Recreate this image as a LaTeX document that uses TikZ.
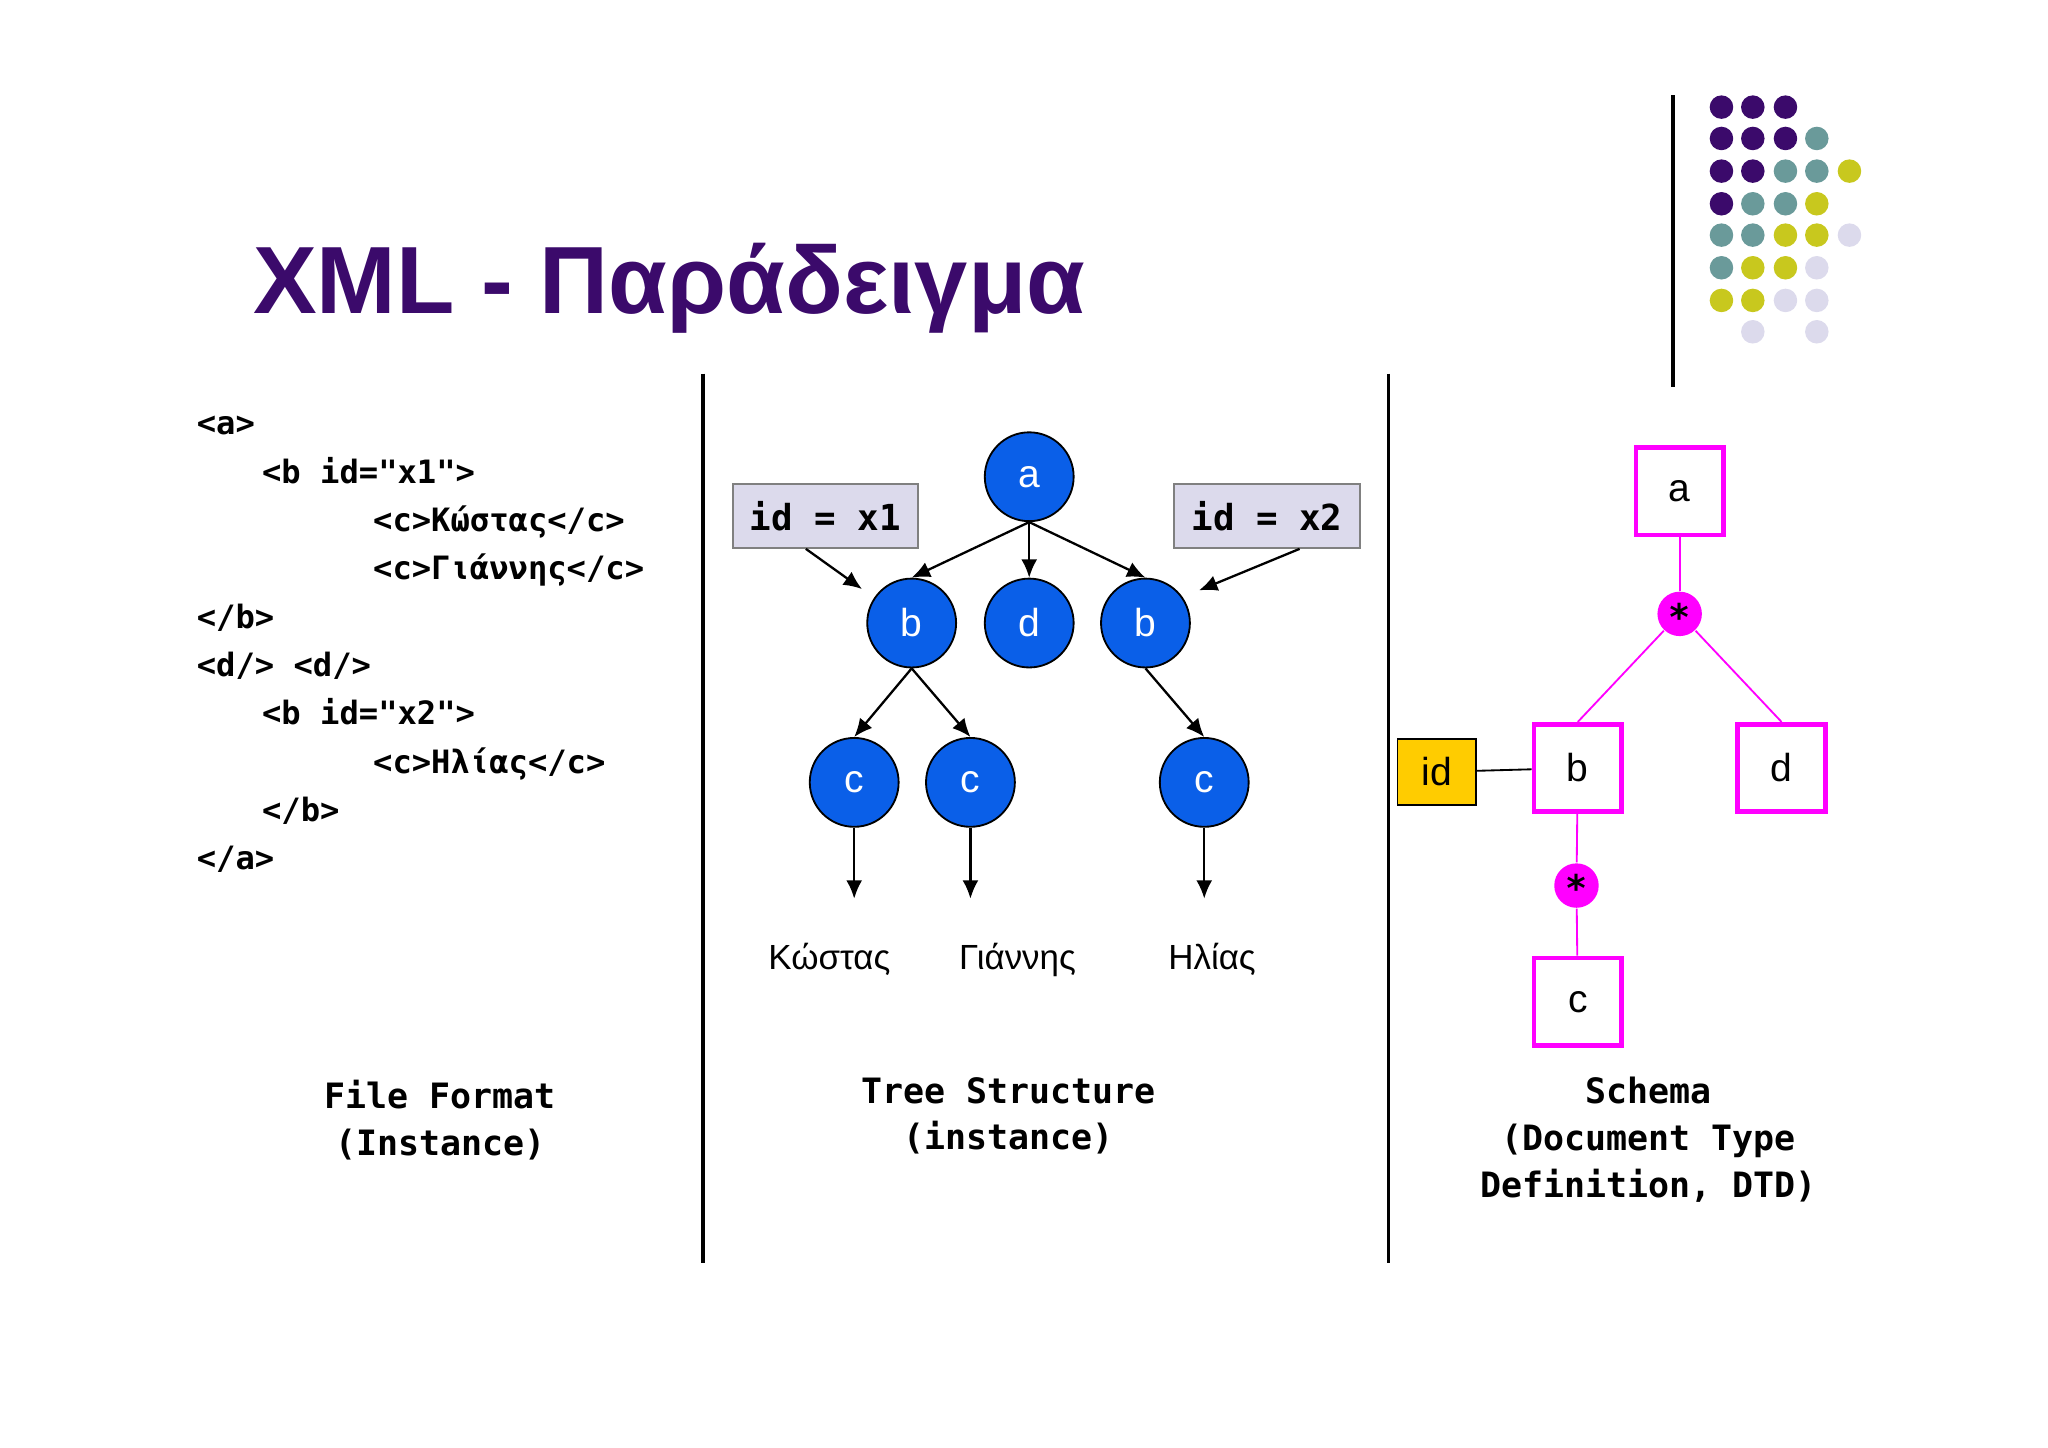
\documentclass[tikz,border=0pt]{standalone}
\usepackage{fontspec}
\setmainfont{Liberation Sans}
\newfontfamily\codefont{DejaVu Sans Mono}
\usetikzlibrary{arrows.meta}
\definecolor{ptitle}{HTML}{3B0A6B}
\definecolor{dteal}{HTML}{6A9A9A}
\definecolor{dyel}{HTML}{C8C81E}
\definecolor{dlav}{HTML}{DCDAEC}
\definecolor{tblue}{HTML}{0A5FE8}
\definecolor{mag}{HTML}{FF00FF}
\definecolor{idy}{HTML}{FFCC00}
\begin{document}
\begin{tikzpicture}[x=0.01cm,y=-0.01cm,
  tn/.style={circle,draw=black,fill=tblue,minimum size=0.68cm,inner sep=0pt,text=white,font=\fontsize{8.5}{10}\selectfont},
  arr/.style={-{Latex[length=4pt,width=3.5pt]},black,line width=0.5pt},
  code/.style={anchor=base west,inner sep=0pt,font=\codefont\bfseries\fontsize{7.0}{9}\selectfont},
  lbl/.style={anchor=north,inner sep=0pt,font=\codefont\bfseries\fontsize{7.6}{10.2}\selectfont,align=center},
  idbox/.style={draw=gray,fill=dlav,minimum width=1.42cm,minimum height=0.49cm,inner sep=0pt,font=\codefont\bfseries\fontsize{7.8}{9}\selectfont},
  sb/.style={draw=mag,line width=1pt,fill=white,minimum size=0.67cm,inner sep=0pt,font=\fontsize{8.5}{10}\selectfont},
  star/.style={circle,fill=mag,minimum size=0.34cm,inner sep=0pt},
  dot/.style={circle,inner sep=0pt,minimum size=0.18cm},
  word/.style={anchor=base,inner sep=0pt,font=\fontsize{7.6}{9}\selectfont}]
\useasboundingbox (0,0) rectangle (1568,1108);
\node[anchor=base west,inner sep=0pt,text=ptitle,font=\bfseries\fontsize{20.8}{24}\selectfont] (title) at (193,240) {XML - Παράδειγμα};
\draw[line width=0.8pt] (1281,73) -- (1281,296);
\foreach \x/\y/\c in {1318/82/ptitle,1342/82/ptitle,1367/82/ptitle,
 1318/106/ptitle,1342/106/ptitle,1367/106/ptitle,1391/106/dteal,
 1318/131/ptitle,1342/131/ptitle,1367/131/dteal,1391/131/dteal,1416/131/dyel,
 1318/156/ptitle,1342/156/dteal,1367/156/dteal,1391/156/dyel,
 1318/180/dteal,1342/180/dteal,1367/180/dyel,1391/180/dyel,1416/180/dlav,
 1318/205/dteal,1342/205/dyel,1367/205/dyel,1391/205/dlav,
 1318/230/dyel,1342/230/dyel,1367/230/dlav,1391/230/dlav,
 1342/254/dlav,1391/254/dlav}
 \node[dot,fill=\c] at (\x,\y) {};
\draw[line width=0.8pt] (538,286) -- (538,967);
\draw[line width=0.8pt] (1063,286) -- (1063,967);
\node[code] (l1) at (150,333) {<a>};
\node[code] (l2) at (200,370) {<b id="x1">};
\node[code] (l3) at (285,407) {<c>Κώστας</c>};
\node[code] (l4) at (285,444) {<c>Γιάννης</c>};
\node[code] (l5) at (150,481) {</b>};
\node[code] (l6) at (150,518) {<d/> <d/>};
\node[code] (l7) at (200,555) {<b id="x2">};
\node[code] (l8) at (285,592) {<c>Ηλίας</c>};
\node[code] (l9) at (200,629) {</b>};
\node[code] (l10) at (150,666) {</a>};
\node[lbl] (f1) at (337,826) {File Format\\(Instance)};
\node[tn] (a) at (788,365) {a};
\node[tn] (b1) at (698,477) {b};
\node[tn] (d) at (788,477) {d};
\node[tn] (b2) at (877,477) {b};
\node[tn] (c1) at (654,599) {c};
\node[tn] (c2) at (743,599) {c};
\node[tn] (c3) at (922,599) {c};
\draw[arr] (a.south) -- (b1.north);
\draw[arr] (a.south) -- (d.north);
\draw[arr] (a.south) -- (b2.north);
\draw[arr] (b1.south) -- (c1.north);
\draw[arr] (b1.south) -- (c2.north);
\draw[arr] (b2.south) -- (c3.north);
\coordinate (e1) at (654,688);
\coordinate (e2) at (743,688);
\coordinate (e3) at (922,688);
\draw[arr] (c1) -- (e1);
\draw[arr] (c2) -- (e2);
\draw[arr] (c3) -- (e3);
\node[word] (w1) at (635,742) {Κώστας};
\node[word] (w2) at (779,742) {Γιάννης};
\node[word] (w3) at (928,742) {Ηλίας};
\node[idbox] (x1) at (632,395) {id = x1};
\node[idbox] (x2) at (970,395) {id = x2};
\coordinate (t1) at (660,451);
\coordinate (t2) at (918,452);
\draw[arr] (x1.south -| 617,0) -- (t1);
\draw[arr] (x2.south -| 995,0) -- (t2);
\node[lbl] (f2) at (772,824) {Tree Structure\\(instance)};
\node[star] (s1) at (1286,470) {};
\node[star] (s2) at (1207,678) {};
\node[font=\codefont\bfseries\fontsize{8}{9}\selectfont,inner sep=0pt] at (1286,472) {*};
\node[font=\codefont\bfseries\fontsize{8}{9}\selectfont,inner sep=0pt] at (1207,680) {*};
\node[sb] (sa) at (1286,376) {a};
\node[sb] (sbb) at (1208,588) {b};
\node[sb] (sd) at (1364,588) {d};
\node[sb] (sc) at (1208,767) {c};
\node[draw=black,fill=idy,minimum width=0.6cm,minimum height=0.5cm,inner sep=0pt,font=\fontsize{8.5}{10}\selectfont] (sid) at (1100,591) {id};
\draw[mag] (sa) -- (s1);
\draw[mag] (s1) -- (sbb.north);
\draw[mag] (s1) -- (sd.north);
\draw[mag] (sbb) -- (s2);
\draw[mag] (s2) -- (sc);
\draw (sid) -- (sbb);
\node[lbl] (f3) at (1262,824) {Schema\\(Document Type\\Definition, DTD)};
\end{tikzpicture}
\end{document}
